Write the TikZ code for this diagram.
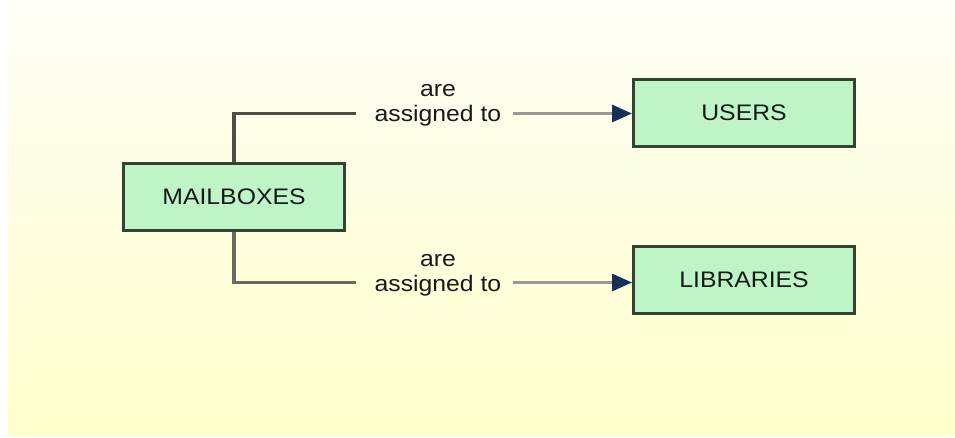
\documentclass[tikz,border=0pt]{standalone}
\usepackage{fontspec}
\setmainfont{Liberation Sans}[FakeStretch=1.1]
\usetikzlibrary{arrows.meta}
\definecolor{boxfill}{HTML}{BFF5C6}
\definecolor{boxdraw}{HTML}{34432F}
\definecolor{darkseg}{HTML}{4E4E45}
\definecolor{midseg}{HTML}{6A6A5E}
\definecolor{lightseg}{HTML}{9C9B93}
\definecolor{tipcol}{HTML}{16305A}
\definecolor{bgtop}{HTML}{FEFEF6}
\definecolor{bgbot}{HTML}{FFFFCC}
\tikzset{
  entity/.style={draw=boxdraw, fill=boxfill, line width=3pt, minimum width=221pt, minimum height=67pt, inner sep=0pt, text=black!90, font=\fontsize{22.5}{25}\selectfont},
  lbl/.style={inner sep=0pt, align=center, anchor=south, text=black!90, font=\fontsize{22.5}{25}\selectfont},
  seg/.style={line width=3.2pt},
  arr/.style={line width=3.2pt, draw=lightseg, -{Triangle[length=20pt,width=17pt,color=tipcol]}}
}
\begin{document}
\begin{tikzpicture}[x=1pt,y=-1pt]
\useasboundingbox (0,0) rectangle (955,437);
\fill[white] (0,0) rectangle (955,437);
\shade[top color=bgtop, bottom color=bgbot] (8,0) rectangle (955,435);
\node[entity] (mb) at (234,196.5) {MAILBOXES};
\node[entity] (users) at (744,113) {USERS};
\node[entity] (libs) at (744,280) {LIBRARIES};
\coordinate (t1) at (356,113.5);
\coordinate (t2) at (513,113.5);
\coordinate (b1) at (356,282.5);
\coordinate (b2) at (513,282.5);
\node[lbl] (l1) at (438,126.5) {are\\assigned to};
\node[lbl] (l2) at (438,296.5) {are\\assigned to};
\draw[seg, draw=darkseg] (mb.north) |- (t1);
\draw[seg, draw=midseg] (mb.south) |- (b1);
\draw[arr] (t2) -- (t2 -| users.west);
\draw[arr] (b2) -- (b2 -| libs.west);
\end{tikzpicture}
\end{document}
